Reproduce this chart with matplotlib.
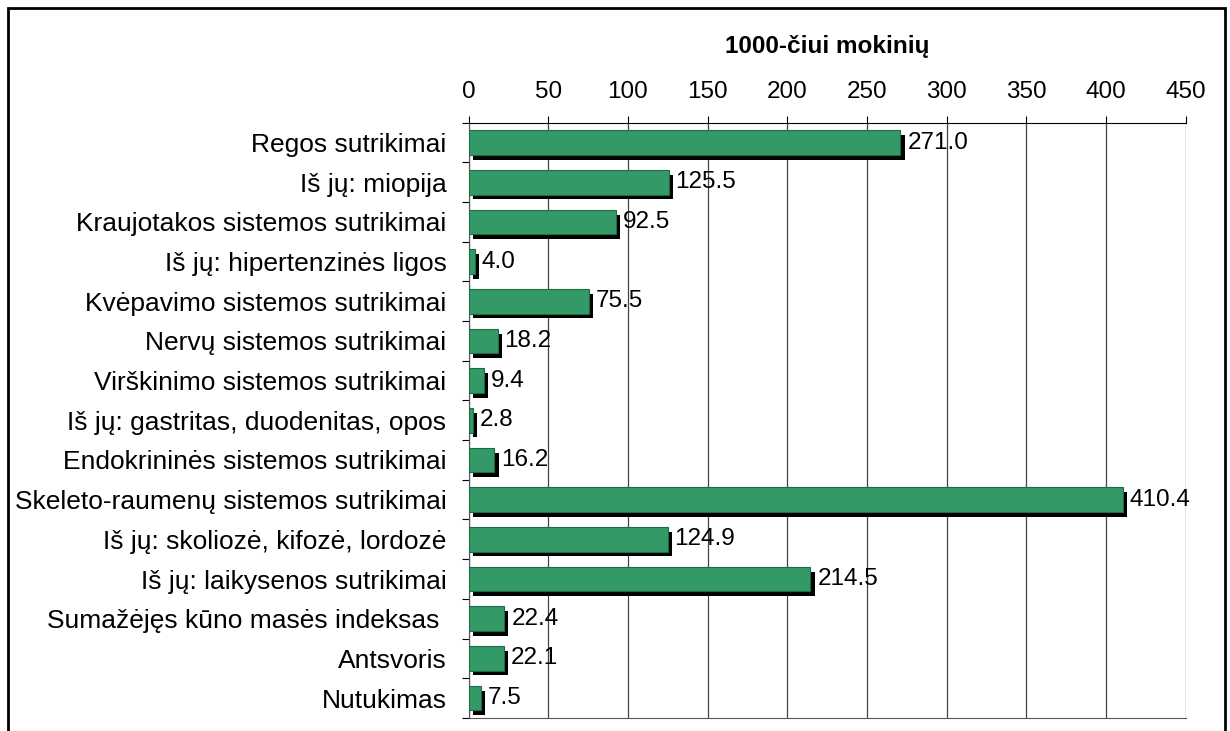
import numpy as np
import matplotlib
matplotlib.use("Agg")
import matplotlib.pyplot as plt
import matplotlib.patheffects as pe
from matplotlib.patches import Rectangle

plt.rcParams['font.family'] = ['Liberation Sans', 'DejaVu Sans']

# Duomenys (1000-čiui mokinių)
kategorijos = [
    "Regos sutrikimai",
    "Iš jų: miopija",
    "Kraujotakos sistemos sutrikimai",
    "Iš jų: hipertenzinės ligos",
    "Kvėpavimo sistemos sutrikimai",
    "Nervų sistemos sutrikimai",
    "Virškinimo sistemos sutrikimai",
    "Iš jų: gastritas, duodenitas, opos",
    "Endokrininės sistemos sutrikimai",
    "Skeleto-raumenų sistemos sutrikimai",
    "Iš jų: skoliozė, kifozė, lordozė",
    "Iš jų: laikysenos sutrikimai",
    "Sumažėjęs kūno masės indeksas ",
    "Antsvoris",
    "Nutukimas",
]
reiksmes = [271.0, 125.5, 92.5, 4.0, 75.5, 18.2, 9.4, 2.8, 16.2,
            410.4, 124.9, 214.5, 22.4, 22.1, 7.5]
x_ticks = [0, 50, 100, 150, 200, 250, 300, 350, 400, 450]

fs = 17.5

fig = plt.figure(figsize=(12.3, 7.31), dpi=100)
ax = fig.add_axes([0.381, 0.018, 0.583, 0.814])

y = np.arange(len(kategorijos))
bars = ax.barh(y, reiksmes, height=0.62, color='#339966', edgecolor='#1f6b44',
               linewidth=0.8, zorder=3)
for b in bars:
    b.set_path_effects([pe.SimplePatchShadow(offset=(3, -3.5), shadow_rgbFace='black', alpha=1.0),
                        pe.Normal()])

# reikšmių etiketės
for yi, v in zip(y, reiksmes):
    ax.annotate(f"{v:.1f}", xy=(v, yi), xytext=(5, 0), textcoords='offset points',
                va='center', ha='left', fontsize=fs, zorder=5)

ax.set_xlim(0, 450)
ax.set_ylim(len(kategorijos) - 0.5, -0.5)
ax.xaxis.tick_top()
ax.set_xticks(x_ticks)
ax.tick_params(axis='x', labelsize=fs, length=5, width=0.8, pad=9)
ax.set_yticks(y)
ax.set_yticklabels(kategorijos, fontsize=19)
ax.tick_params(axis='y', which='major', length=0, pad=16)
ax.set_yticks(np.arange(-0.5, len(kategorijos), 1.0), minor=True)
ax.tick_params(axis='y', which='minor', length=5, width=0.8)

ax.grid(axis='x', color='#444444', linewidth=0.9, zorder=0)
ax.set_axisbelow(True)
ax.spines['right'].set_visible(False)
ax.spines['left'].set_color('#555555')
ax.spines['bottom'].set_color('#555555')

fig.text(0.381 + 0.583 / 2, 1 - 47 / 731, "1000-čiui mokinių", ha='center', va='center',
         fontsize=fs, fontweight='bold')

# rėmelis aplink
fig.patches.append(Rectangle((8 / 1230, -0.05), 1217 / 1230, 1 - 8 / 731 + 0.05,
                             transform=fig.transFigure, fill=False,
                             edgecolor='black', linewidth=2))

fig.savefig("out.png", dpi=100)
